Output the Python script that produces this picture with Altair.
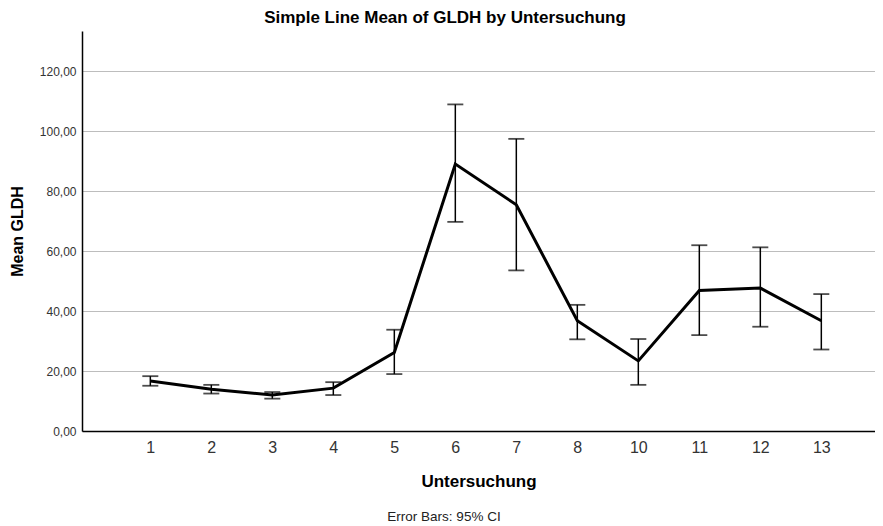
import altair as alt
import pandas as pd

categories = ["1", "2", "3", "4", "5", "6", "7", "8", "10", "11", "12", "13"]
means = [16.7, 13.9, 12.0, 14.3, 26.2, 89.1, 75.5, 36.8, 23.4, 46.9, 47.7, 36.8]
ci_lower = [15.1, 12.5, 10.8, 12.0, 19.0, 69.8, 53.6, 30.6, 15.4, 32.0, 34.8, 27.2]
ci_upper = [18.3, 15.4, 13.0, 16.3, 33.8, 109.0, 97.5, 42.1, 30.7, 62.0, 61.3, 45.7]
y_ticks = [0, 20, 40, 60, 80, 100, 120]

df = pd.DataFrame({"Untersuchung": categories, "mean": means,
                   "lo": ci_lower, "hi": ci_upper})

FONT = "Liberation Sans"
W = 793

x_enc = alt.X("Untersuchung:O", sort=categories,
              scale=alt.Scale(type="point", padding=1.03, align=0.56),
              axis=alt.Axis(title="Untersuchung", labelAngle=0, labelFontSize=16,
                            labelColor="#333333", labelPadding=8, ticks=False,
                            domainColor="#000000", domainWidth=1.5,
                            titleFontSize=17, titleFontWeight="bold",
                            titlePadding=18, titleColor="#000000", grid=False))
y_scale = alt.Scale(domain=[0, 133.5], nice=False, zero=True)

base = alt.Chart(df)

line = base.mark_line(color="#000000", strokeWidth=3).encode(
    x=x_enc,
    y=alt.Y("mean:Q", scale=y_scale,
            axis=alt.Axis(title="Mean GLDH", values=y_ticks,
                          labelExpr="replace(format(datum.value, '.2f'), '.', ',')",
                          labelFontSize=12, labelColor="#333333", labelPadding=6,
                          ticks=False, domainColor="#000000", domainWidth=1.5,
                          gridColor="#bdbdbd", gridWidth=1.2,
                          titleFontSize=16, titleFontWeight="bold",
                          titlePadding=14, titleColor="#000000")),
)

rules = base.mark_rule(color="#000000", strokeWidth=1.5).encode(
    x=alt.X("Untersuchung:O", sort=categories),
    y=alt.Y("lo:Q", scale=y_scale),
    y2="hi:Q",
)
caps_lo = base.mark_tick(color="#000000", thickness=1.8, size=16, orient="horizontal").encode(
    x=alt.X("Untersuchung:O", sort=categories),
    y=alt.Y("lo:Q", scale=y_scale),
)
caps_hi = base.mark_tick(color="#000000", thickness=1.8, size=16, orient="horizontal").encode(
    x=alt.X("Untersuchung:O", sort=categories),
    y=alt.Y("hi:Q", scale=y_scale),
)

title = alt.Chart(pd.DataFrame({"t": ["Simple Line Mean of GLDH by Untersuchung"]})).mark_text(
    font=FONT, fontSize=17, fontWeight="bold", color="#000000", baseline="middle", align="center"
).encode(text="t:N", x=alt.value(363), y=alt.value(-13))

footer = alt.Chart(pd.DataFrame({"t": ["Error Bars: 95% CI"]})).mark_text(
    font=FONT, fontSize=13.5, color="#222222", baseline="middle", align="center"
).encode(text="t:N", x=alt.value(362), y=alt.value(486))

chart = alt.layer(line, rules, caps_lo, caps_hi, title, footer).properties(
    width=W, height=400,
    autosize=alt.AutoSizeParams(type="none"),
    padding={"left": 74, "top": 23, "right": 0, "bottom": 95},
).configure(font=FONT).configure_view(stroke=None)

chart.save("out.html", embed_options={"renderer": "svg", "actions": False})
